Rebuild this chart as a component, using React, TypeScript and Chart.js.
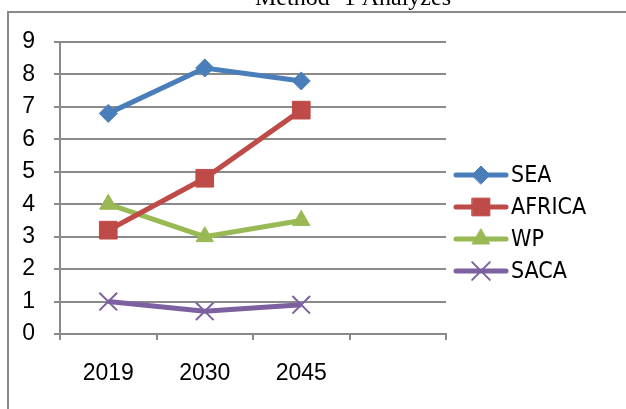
import React, { useEffect, useRef } from "react";
import { Chart, registerables } from "chart.js";
import { drawPoint } from "chart.js/helpers";

Chart.register(...registerables);

const titleText = "Method -1 Analyzes";
const categories = ["2019", "2030", "2045", ""];
const seriesNames = ["SEA", "AFRICA", "WP", "SACA"];
const seaValues = [6.8, 8.2, 7.8, null];
const africaValues = [3.2, 4.8, 6.9, null];
const wpValues = [4.0, 3.0, 3.5, null];
const sacaValues = [1.0, 0.7, 0.9, null];
const yMin = 0;
const yMax = 9;
const yStep = 1;

const colors = ["#4A7EBB", "#BE4B48", "#98B954", "#7D60A0"];
const pointStyles = ["rectRot", "rect", "triangle", "crossRot"];
const pointRadii = [9, 12.5, 10, 12.5];
const TICK_FONT = "'Liberation Sans Narrow', 'Liberation Sans', Arial, sans-serif";
const LEGEND_FONT = "'Liberation Sans Narrow', 'DejaVu Sans Condensed', 'Liberation Sans', sans-serif";
const GRID = "#8a8a8a";

const framePlugin = {
  id: "frameAndTitle",
  beforeDraw(chart: any) {
    const ctx = chart.ctx;
    ctx.save();
    ctx.fillStyle = "#ffffff";
    ctx.fillRect(0, 0, chart.width, chart.height);
    ctx.strokeStyle = "#8a8a8a";
    ctx.lineWidth = 2;
    ctx.strokeRect(8, 12, 700, 500);
    ctx.fillStyle = "#000000";
    ctx.font = "24px 'Liberation Serif', 'Times New Roman', serif";
    ctx.textAlign = "center";
    ctx.textBaseline = "alphabetic";
    ctx.fillText(titleText, 353, 5);
    ctx.restore();
  },
};

const legendPlugin = {
  id: "lineLegend",
  afterDraw(chart: any) {
    const ctx = chart.ctx;
    ctx.save();
    const x0 = 456;
    const x1 = 506;
    const rowTop = 175;
    const rowGap = 32;
    chart.data.datasets.forEach((ds: any, i: number) => {
      const y = rowTop + i * rowGap;
      ctx.strokeStyle = ds.borderColor;
      ctx.lineWidth = ds.borderWidth;
      ctx.lineCap = "round";
      ctx.beginPath();
      ctx.moveTo(x0, y);
      ctx.lineTo(x1, y);
      ctx.stroke();
      ctx.fillStyle = ds.pointBackgroundColor;
      ctx.strokeStyle = ds.pointBorderColor;
      ctx.lineWidth = ds.pointBorderWidth;
      drawPoint(ctx, { pointStyle: ds.pointStyle, rotation: 0, borderWidth: ds.pointBorderWidth, radius: ds.pointRadius }, (x0 + x1) / 2, y);
      ctx.fillStyle = "#000000";
      ctx.font = `23px ${LEGEND_FONT}`;
      ctx.textAlign = "left";
      ctx.textBaseline = "middle";
      ctx.fillText(ds.label, 511, y + 1);
    });
    ctx.restore();
  },
};

export default function App() {
  const ref = useRef<HTMLCanvasElement | null>(null);
  useEffect(() => {
    if (!ref.current) return;
    const valueLists = [seaValues, africaValues, wpValues, sacaValues];
    const chart = new Chart(ref.current, {
      type: "line",
      data: {
        labels: categories,
        datasets: seriesNames.map((name, i) => ({
          label: name,
          data: valueLists[i],
          borderColor: colors[i],
          backgroundColor: colors[i],
          borderWidth: 5,
          pointStyle: pointStyles[i],
          pointRadius: pointRadii[i],
          pointHoverRadius: pointRadii[i],
          pointBackgroundColor: colors[i],
          pointBorderColor: colors[i],
          pointBorderWidth: pointStyles[i] === "crossRot" ? 2 : 1,
          tension: 0,
          spanGaps: false,
        })),
      },
      options: {
        animation: false,
        responsive: false,
        devicePixelRatio: 1,
        events: [],
        layout: { padding: { left: 0, right: 180, top: 42, bottom: 0 } },
        plugins: {
          legend: { display: false },
          title: { display: false },
          tooltip: { enabled: false },
        },
        scales: {
          x: {
            offset: true,
            afterFit: (s: any) => {
              s.height = 75;
            },
            grid: {
              display: true,
              offset: true,
              drawOnChartArea: false,
              drawTicks: true,
              tickLength: 6,
              color: GRID,
              lineWidth: 2,
            },
            border: { display: true, color: GRID, width: 2 },
            ticks: {
              color: "#000",
              font: { family: TICK_FONT, size: 23 },
              padding: 20,
              maxRotation: 0,
              autoSkip: false,
            },
          },
          y: {
            min: yMin,
            max: yMax,
            afterFit: (s: any) => {
              s.width = 60;
            },
            grid: {
              display: true,
              drawTicks: true,
              tickLength: 6,
              color: GRID,
              lineWidth: 2,
            },
            border: { display: true, color: GRID, width: 2 },
            ticks: {
              stepSize: yStep,
              autoSkip: false,
              color: "#000",
              font: { family: TICK_FONT, size: 23 },
              padding: 19,
            },
          },
        },
      },
      plugins: [framePlugin, legendPlugin],
    } as any);
    return () => chart.destroy();
  }, []);
  return (
    <div style={{ position: "fixed", left: 0, top: 0, width: 626, height: 409, background: "#fff" }}>
      <canvas ref={ref} width={626} height={409} style={{ width: 626, height: 409, display: "block" }} />
    </div>
  );
}
